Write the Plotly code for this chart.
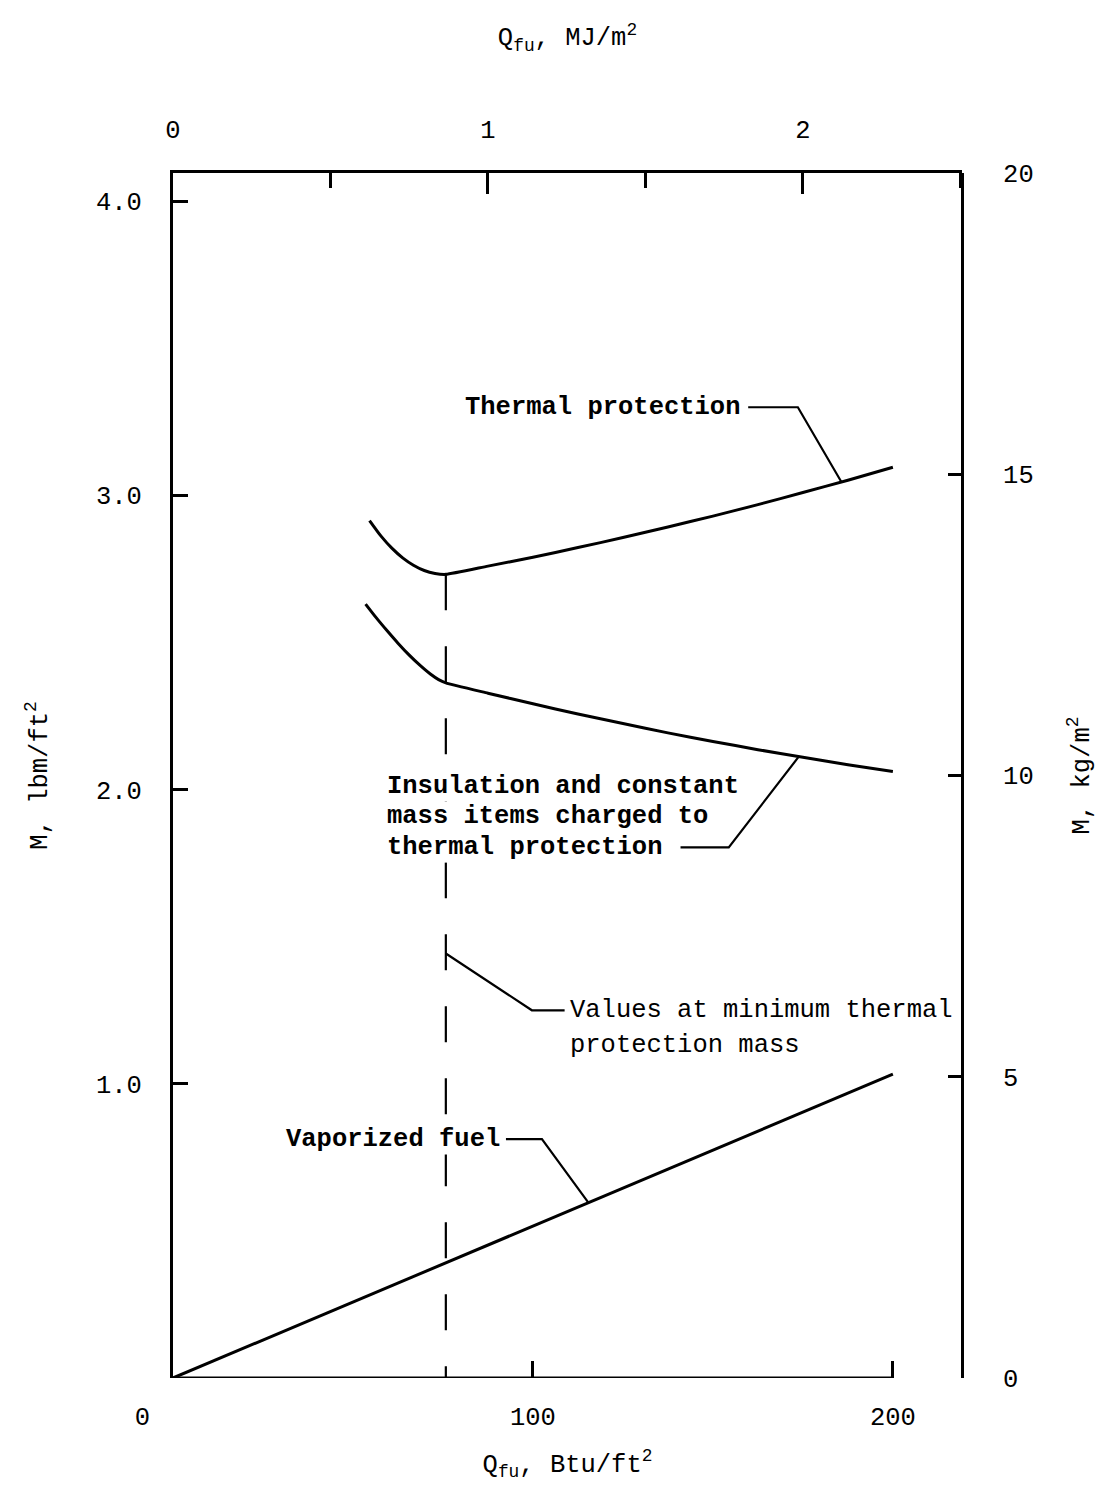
import plotly.graph_objects as go

# ---------------- data ----------------
# Q_fu in Btu/ft^2, M in lbm/ft^2
thermal_q = [54.6, 57.8, 60.8, 63.8, 66.8, 69.8, 72.8, 75.8,
             87.5, 100, 112.5, 125, 137.5, 150, 162.5, 175, 187.5, 200]
thermal_m = [2.915, 2.862, 2.821, 2.788, 2.763, 2.745, 2.735, 2.732,
             2.760, 2.790, 2.823, 2.857, 2.893, 2.930, 2.969, 3.010, 3.052, 3.096]

insul_q = [53.5, 56.5, 59.5, 62.5, 65.5, 68.5, 71.5, 73.8, 75.8,
           87.5, 100, 112.5, 125, 137.5, 150, 162.5, 175, 187.5, 200]
insul_m = [2.631, 2.584, 2.540, 2.498, 2.459, 2.424, 2.393, 2.374, 2.363,
           2.328, 2.292, 2.257, 2.225, 2.193, 2.164, 2.136, 2.110, 2.085, 2.062]

fuel_q = [0, 200]
fuel_m = [0, 1.033]

q_min = 75.8                 # location of minimum thermal protection mass
m_min_top = 2.732

# leader lines for the labels (Btu/ft^2, lbm/ft^2)
lead_thermal_q = [159.8, 173.6, 185.7]
lead_thermal_m = [3.300, 3.300, 3.046]
lead_insul_q = [141.0, 154.4, 173.9]
lead_insul_m = [1.804, 1.804, 2.113]
lead_values_q = [75.8, 99.7, 108.8]
lead_values_m = [1.443, 1.250, 1.250]
lead_fuel_q = [92.5, 102.5, 115.4]
lead_fuel_m = [0.812, 0.812, 0.596]

# axis ticks
x_ticks = [0, 100, 200]
x_ticktext = ["0", "100", "200"]
x2_ticks = [0, 1, 2]
x2_ticktext = ["0", "1", "2"]
y_ticks = [1, 2, 3, 4]
y_ticktext = ["1.0", "2.0", "3.0", "4.0"]
y2_ticks = [0, 5, 10, 15, 20]
y2_ticktext = ["0", "5", "10", "15", "20"]

X_MAX = 219.2      # Btu/ft^2 at right edge of frame
X2_MAX = 2.5055    # MJ/m^2 at right edge of frame
Y2_MAX = 20.0      # kg/m^2
Y_MAX = Y2_MAX / 4.8824   # lbm/ft^2

MONO = "Liberation Mono"
FS = 25.5
NB = "\u00a0"

fig = go.Figure()

line_style = dict(color="black", width=3)
lead_style = dict(color="black", width=2.2)

fig.add_trace(go.Scatter(x=thermal_q, y=thermal_m, mode="lines",
                         line=dict(line_style, shape="spline", smoothing=0.5), hoverinfo="skip"))
fig.add_trace(go.Scatter(x=insul_q, y=insul_m, mode="lines",
                         line=dict(line_style, shape="spline", smoothing=0.5), hoverinfo="skip"))
fig.add_trace(go.Scatter(x=fuel_q, y=fuel_m, mode="lines", line=line_style, hoverinfo="skip"))
fig.add_trace(go.Scatter(x=[q_min, q_min], y=[m_min_top, 0], mode="lines",
                         line=dict(color="black", width=2.2, dash="36px,36px"), hoverinfo="skip"))
for lq, lm in [(lead_thermal_q, lead_thermal_m), (lead_insul_q, lead_insul_m),
               (lead_values_q, lead_values_m), (lead_fuel_q, lead_fuel_m)]:
    fig.add_trace(go.Scatter(x=lq, y=lm, mode="lines", line=lead_style, hoverinfo="skip"))

# trace bound to the secondary (SI) axes
fig.add_trace(go.Scatter(x=[None], y=[None], xaxis="x2", yaxis="y2", mode="lines", hoverinfo="skip"))

# bottom frame line only runs to 200
fig.add_shape(type="line", xref="x", yref="y", x0=0, x1=200, y0=0, y1=0,
              line=dict(color="black", width=3))

tfont = dict(family=MONO, size=FS, color="black")
bfont = dict(family=MONO, size=FS, color="black", weight="bold")


def label(x, y, text, font=tfont, bg=None):
    fig.add_annotation(x=x, y=y, xref="x", yref="y", text=text, showarrow=False,
                       xanchor="left", yanchor="middle", font=font,
                       bgcolor=bg, borderpad=0)


label(80.8, 3.299, "Thermal protection", bfont)
label(59.1, 2.012, "Insulation and constant", bfont, "white")
label(59.1, 1.910, "mass items charged to", bfont, "white")
label(59.1, 1.804, "thermal protection", bfont, "white")
label(109.9, 1.250, "Values at minimum thermal")
label(109.9, 1.131, "protection mass")
label(31.0, 0.812, "Vaporized fuel", bfont, "white")

fig.update_layout(
    width=1102, height=1493,
    margin=dict(l=173, r=130, t=173, b=115),
    plot_bgcolor="white", paper_bgcolor="white",
    showlegend=False,
    font=dict(family=MONO, size=FS, color="black"),
    xaxis=dict(
        domain=[0, 1], range=[0, X_MAX], showline=False, showgrid=False, zeroline=False,
        ticks="inside", ticklen=17, tickwidth=2.5, tickcolor="black",
        tickvals=x_ticks, ticktext=[x_ticktext[0] + NB * 4] + x_ticktext[1:],
        tickfont=tfont, ticklabelstandoff=20,
        title=dict(text="Q<sub>fu</sub>, Btu/ft<sup>2</sup>", font=tfont, standoff=22),
    ),
    xaxis2=dict(
        overlaying="x", side="top", anchor="y", range=[0, X2_MAX],
        showline=True, linewidth=3, linecolor="black", showgrid=False, zeroline=False,
        ticks="inside", ticklen=21, tickwidth=2.5, tickcolor="black",
        tickvals=x2_ticks, ticktext=x2_ticktext,
        minor=dict(ticks="inside", ticklen=15, tickwidth=2.5, tickcolor="black", dtick=0.5, tick0=0),
        tickfont=tfont, ticklabelstandoff=22,
        title=dict(text="Q<sub>fu</sub>, MJ/m<sup>2</sup>", font=tfont, standoff=64),
    ),
    yaxis=dict(
        range=[0, Y_MAX], showline=True, linewidth=3, linecolor="black",
        showgrid=False, zeroline=False,
        ticks="inside", ticklen=15, tickwidth=2.5, tickcolor="black",
        tickvals=y_ticks, ticktext=y_ticktext,
        tickfont=tfont, ticklabelstandoff=23,
        title=dict(text="M, lbm/ft<sup>2</sup>", font=tfont, standoff=42),
    ),
    yaxis2=dict(
        overlaying="y", side="right", anchor="free", position=1, range=[0, Y2_MAX],
        showline=True, linewidth=3, linecolor="black", showgrid=False, zeroline=False,
        ticks="inside", ticklen=13, tickwidth=2.5, tickcolor="black",
        tickvals=y2_ticks, ticktext=y2_ticktext,
        tickfont=tfont, ticklabelstandoff=34,
        title=dict(text="M, kg/m<sup>2</sup>", font=tfont, standoff=38),
    ),
)

fig.write_html("out.html")
